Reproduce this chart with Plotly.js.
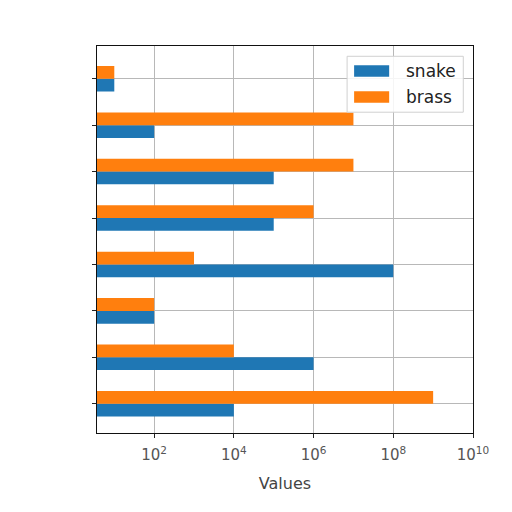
<!DOCTYPE html>
<html>
<head>
<meta charset="utf-8">
<script src="https://cdn.plot.ly/plotly-3.0.1.min.js"></script>
<style>html,body{margin:0;padding:0;background:#fff;}#chart{width:512px;height:512px;}</style>
</head>
<body>
<div id="chart"></div>
<script>
// category positions, bottom to top
var positions = [0, 1, 2, 3, 4, 5, 6, 7];
var snake = [1e4, 1e6, 1e2, 1e8, 1e5, 1e5, 1e2, 1e1];
var brass = [1e9, 1e4, 1e2, 1e3, 1e6, 1e7, 1e7, 1e1];
var seriesNames = ['snake', 'brass'];
var xTickVals = [1e2, 1e4, 1e6, 1e8, 1e10];
var xTickText = ['10<sup>2</sup>', '10<sup>4</sup>', '10<sup>6</sup>', '10<sup>8</sup>', '10<sup>10</sup>'];

var blue = '#1f77b4', orange = '#ff7f0e';
var H = 0.275;

var L = 97.3, R = 472.7, T = 45.7, B = 433.3;
function px(x){ return (x - L) / (R - L); }
function py(y){ return (B - y) / (B - T); }

var traces = [
  {type:'bar', orientation:'h', name:seriesNames[0], y:positions, x:snake,
   marker:{color:blue, line:{width:0}}, width:H, offset:-H, showlegend:false, hoverinfo:'x'},
  {type:'bar', orientation:'h', name:seriesNames[1], y:positions, x:brass,
   marker:{color:orange, line:{width:0}}, width:H, offset:0, showlegend:false, hoverinfo:'x'}
];

var shapes = [
  {type:'rect', xref:'paper', yref:'paper', x0:px(347), x1:px(463), y0:py(112), y1:py(56),
   fillcolor:'rgba(255,255,255,0.85)', line:{color:'#d0d0d0', width:1}},
  {type:'rect', xref:'paper', yref:'paper', x0:px(354), x1:px(389), y0:py(76.5), y1:py(65),
   fillcolor:blue, line:{width:0}},
  {type:'rect', xref:'paper', yref:'paper', x0:px(354), x1:px(389), y0:py(102.5), y1:py(91),
   fillcolor:orange, line:{width:0}}
];

var annotations = [
  {xref:'paper', yref:'paper', x:px(404), y:py(71), xanchor:'left', yanchor:'middle', showarrow:false,
   text:seriesNames[0], font:{family:'DejaVu Sans', size:17, color:'#222'}},
  {xref:'paper', yref:'paper', x:px(404), y:py(97), xanchor:'left', yanchor:'middle', showarrow:false,
   text:seriesNames[1], font:{family:'DejaVu Sans', size:17, color:'#222'}}
];

var layout = {
  width:512, height:512,
  margin:{l:L, r:512-R, t:T, b:512-B, pad:0},
  paper_bgcolor:'#fff', plot_bgcolor:'#fff',
  barmode:'overlay',
  showlegend:false,
  font:{family:'DejaVu Sans', color:'#444'},
  xaxis:{type:'log', range:[0.566, 10], tickvals:xTickVals, ticktext:xTickText,
    showgrid:true, gridcolor:'#b8b8b8', gridwidth:1,
    showline:true, linecolor:'#111', linewidth:1.2, mirror:true,
    ticks:'outside', ticklen:4, tickcolor:'#222', tickwidth:1, ticklabelstandoff:4,
    tickfont:{family:'DejaVu Sans', size:15, color:'#555'}, zeroline:false,
    title:{text:'Values', font:{family:'DejaVu Sans', size:16, color:'#444'}, standoff:14}},
  yaxis:{range:[-0.63, 7.705], tickvals:positions, showticklabels:false,
    showgrid:true, gridcolor:'#b8b8b8', gridwidth:1,
    showline:true, linecolor:'#111', linewidth:1.2, mirror:true,
    ticks:'outside', ticklen:4, tickcolor:'#222', tickwidth:1, zeroline:false},
  shapes:shapes,
  annotations:annotations
};

Plotly.newPlot('chart', traces, layout, {displayModeBar:false, staticPlot:true});
</script>
</body>
</html>
